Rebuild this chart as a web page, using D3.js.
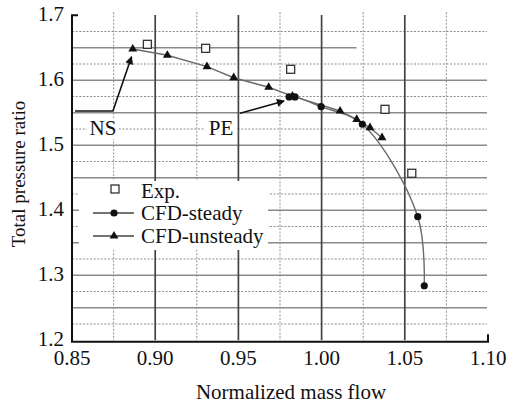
<!DOCTYPE html>
<html>
<head>
<meta charset="utf-8">
<script src="https://cdn.jsdelivr.net/npm/d3@7"></script>
<style>
  body { margin: 0; background: white; }
</style>
</head>
<body>
<div id="chart"></div>
<script>
// data
var expFlow = [0.8953, 0.9303, 0.9814, 1.0381, 1.0542];
var expRatio = [1.6552, 1.6490, 1.6168, 1.5552, 1.4568];

var steadyFlow = [0.9805, 0.9840, 0.9997, 1.0245, 1.0578, 1.0617];
var steadyRatio = [1.5743, 1.5743, 1.5592, 1.5322, 1.3900, 1.2838];

var unsteadyFlow = [0.8865, 0.9073, 0.9311, 0.9472, 0.9682, 0.9825, 1.0111, 1.0211, 1.0291, 1.0363];
var unsteadyRatio = [1.6480, 1.6383, 1.6208, 1.6038, 1.5891, 1.5755, 1.5526, 1.5398, 1.5269, 1.5115];

var xTicks = [0.85, 0.90, 0.95, 1.00, 1.05, 1.10];
var yTicks = [1.2, 1.3, 1.4, 1.5, 1.6, 1.7];
var xMajorGrid = [0.90, 0.95, 1.00, 1.05];
var xMinorGrid = [0.875, 0.925, 0.975, 1.025, 1.075];
var yMajorGrid = [1.25, 1.30, 1.35, 1.40, 1.45, 1.50, 1.55, 1.60, 1.65];
var yMinorGrid = [1.225, 1.275, 1.325, 1.375, 1.425, 1.475, 1.525, 1.575, 1.625, 1.675];

var legendNames = ["Exp.", "CFD-steady", "CFD-unsteady"];
var annotations = [
    { label: "NS", at: [0.8686, 1.5263], path: [[0.8518, 1.5526], [0.8746, 1.5526], [0.8858, 1.6360]] },
    { label: "PE", at: [0.9396, 1.5263], path: [[0.9510, 1.5490], [0.9775, 1.5680]] }
];

var width = 507, height = 407;
var serif = "'Liberation Serif', 'Times New Roman', Times, 'DejaVu Serif', serif";

var svg = d3.select("#chart").append("svg")
    .attr("width", width)
    .attr("height", height)
    .attr("font-family", serif);

var defs = svg.append("defs");
defs.append("marker")
    .attr("id", "head")
    .attr("viewBox", "0 0 10 10")
    .attr("refX", 9)
    .attr("refY", 5)
    .attr("markerWidth", 11)
    .attr("markerHeight", 8)
    .attr("markerUnits", "userSpaceOnUse")
    .attr("orient", "auto")
    .append("path")
    .attr("d", "M0,0 L10,5 L0,10 Z")
    .attr("fill", "#111");

// Scales
var x = d3.scaleLinear().domain([0.85, 1.10]).range([72, 488]);
var y = d3.scaleLinear().domain([1.2, 1.7]).range([340.2, 15.2]);

// Grid
var grid = svg.append("g");
grid.selectAll(".hminor").data(yMinorGrid).enter().append("line")
    .attr("x1", x(0.85)).attr("x2", x(1.10) - 1)
    .attr("y1", d => y(d)).attr("y2", d => y(d))
    .attr("stroke", "#8c8c8c").attr("stroke-width", 1.1)
    .attr("stroke-dasharray", "2,1.6");
grid.selectAll(".vminor").data(xMinorGrid).enter().append("line")
    .attr("x1", d => x(d)).attr("x2", d => x(d))
    .attr("y1", 12).attr("y2", y(1.2))
    .attr("stroke", "#9a9a9a").attr("stroke-width", 1.1)
    .attr("stroke-dasharray", "2,1.6");
grid.selectAll(".hmajor").data(yMajorGrid).enter().append("line")
    .attr("x1", x(0.85))
    .attr("x2", d => d === 1.65 ? x(1.021) : x(1.10) - 1)
    .attr("y1", d => y(d)).attr("y2", d => y(d))
    .attr("stroke", "#8a8a8a").attr("stroke-width", 1.5);
grid.selectAll(".vmajor").data(xMajorGrid).enter().append("line")
    .attr("x1", d => x(d)).attr("x2", d => x(d))
    .attr("y1", 15).attr("y2", y(1.2))
    .attr("stroke", "#444").attr("stroke-width", 1.7);

// Axes
svg.append("path")
    .attr("d", "M" + (x(0.85) + 6) + "," + y(1.7) + "H" + x(0.85) + "V" + (y(1.2) + 1.5) + "H" + x(1.10) + "V" + (y(1.2) - 6))
    .attr("fill", "none").attr("stroke", "#111").attr("stroke-width", 2);

svg.append("g").selectAll("text").data(xTicks).enter().append("text")
    .attr("x", d => x(d)).attr("y", 365)
    .attr("text-anchor", "middle")
    .attr("fill", "#111")
    .style("font-size", "21px")
    .text(d => d.toFixed(2));

svg.append("g").selectAll("text").data(yTicks).enter().append("text")
    .attr("x", 64).attr("y", d => y(d) + 6)
    .attr("text-anchor", "end")
    .attr("fill", "#111")
    .style("font-size", "21px")
    .text(d => d.toFixed(1));

svg.append("text")
    .attr("x", 291).attr("y", 399)
    .attr("text-anchor", "middle")
    .attr("fill", "#111")
    .style("font-size", "21px")
    .text("Normalized mass flow");

svg.append("text")
    .attr("text-anchor", "middle")
    .attr("transform", "translate(25,174) rotate(-90)")
    .attr("fill", "#111")
    .style("font-size", "19px")
    .text("Total pressure ratio");

// Annotations
annotations.forEach(function(a) {
    svg.append("rect")
        .attr("x", x(a.at[0]) - 16).attr("y", y(a.at[1]) - 10)
        .attr("width", 32).attr("height", 21)
        .attr("fill", "white");
    svg.append("text")
        .attr("x", x(a.at[0])).attr("y", y(a.at[1]) + 7)
        .attr("text-anchor", "middle")
        .attr("fill", "#111")
        .style("font-size", "21px")
        .text(a.label);
    svg.append("path")
        .attr("d", d3.line().x(d => x(d[0])).y(d => y(d[1]))(a.path))
        .attr("fill", "none").attr("stroke", "#111").attr("stroke-width", 1.6)
        .attr("marker-end", "url(#head)");
});

// Series
var steady = steadyFlow.map((f, i) => [f, steadyRatio[i]]);
var unsteady = unsteadyFlow.map((f, i) => [f, unsteadyRatio[i]]);
var exp = expFlow.map((f, i) => [f, expRatio[i]]);

var line = d3.line().x(d => x(d[0])).y(d => y(d[1]));
var tri = d3.symbol().type(d3.symbolTriangle).size(34);

svg.append("path")
    .attr("d", line(unsteady))
    .attr("fill", "none").attr("stroke", "#6a6a6a").attr("stroke-width", 1.4);
svg.append("path")
    .attr("d", line.curve(d3.curveCatmullRom)(steady))
    .attr("fill", "none").attr("stroke", "#6a6a6a").attr("stroke-width", 1.4);

svg.append("g").selectAll("path").data(unsteady).enter().append("path")
    .attr("transform", d => "translate(" + x(d[0]) + "," + y(d[1]) + ")")
    .attr("d", tri)
    .attr("fill", "#111");

svg.append("g").selectAll("circle").data(steady).enter().append("circle")
    .attr("cx", d => x(d[0])).attr("cy", d => y(d[1]))
    .attr("r", 3.6)
    .attr("fill", "#111");

svg.append("g").selectAll("rect").data(exp).enter().append("rect")
    .attr("x", d => x(d[0]) - 4).attr("y", d => y(d[1]) - 4)
    .attr("width", 8).attr("height", 8)
    .attr("fill", "white").attr("stroke", "#333").attr("stroke-width", 1.3);

// Legend
var legend = svg.append("g");
legend.append("rect")
    .attr("x", 79).attr("y", 181)
    .attr("width", 189).attr("height", 69)
    .attr("fill", "white");
var rowY = [189, 213, 236];
legend.append("rect")
    .attr("x", 111).attr("y", rowY[0] - 4)
    .attr("width", 8).attr("height", 8)
    .attr("fill", "white").attr("stroke", "#333").attr("stroke-width", 1.3);
[1, 2].forEach(function(i) {
    legend.append("line")
        .attr("x1", 93).attr("x2", 134)
        .attr("y1", rowY[i]).attr("y2", rowY[i])
        .attr("stroke", "#444").attr("stroke-width", 1.4);
});
legend.append("circle")
    .attr("cx", 114).attr("cy", rowY[1]).attr("r", 3.6).attr("fill", "#111");
legend.append("path")
    .attr("transform", "translate(114," + rowY[2] + ")")
    .attr("d", tri).attr("fill", "#111");
legend.selectAll("text").data(legendNames).enter().append("text")
    .attr("x", 141).attr("y", (d, i) => rowY[i] + 7 + (i === 0 ? 2 : 0))
    .attr("fill", "#111")
    .style("font-size", "21px")
    .text(d => d);
</script>
</body>
</html>
